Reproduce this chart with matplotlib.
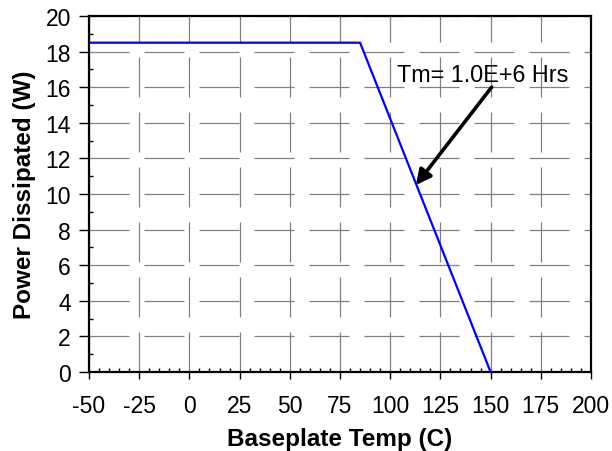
import matplotlib
matplotlib.use("Agg")
import matplotlib.pyplot as plt
from matplotlib.ticker import MultipleLocator

# derating curve
temp_c = [-50, 85, 150]
power_w = [18.5, 18.5, 0]

x_ticks = [-50, -25, 0, 25, 50, 75, 100, 125, 150, 175, 200]
y_ticks = [0, 2, 4, 6, 8, 10, 12, 14, 16, 18, 20]

plt.rcParams["font.family"] = ["Liberation Sans", "DejaVu Sans"]
plt.rcParams["axes.unicode_minus"] = False

fig = plt.figure(figsize=(6.12, 4.52), dpi=100)
ax = fig.add_axes([0.1454, 0.1748, 0.8203, 0.7876])

ax.grid(True, which="major", color="#808080", lw=0.9, ls=(0, (32, 12)))
ax.set_axisbelow(True)
ax.plot(temp_c, power_w, color="#0000ff", lw=1.6, zorder=3)

ax.set_xlim(-50, 200)
ax.set_ylim(0, 20)
ax.set_xticks(x_ticks)
ax.set_yticks(y_ticks)
ax.xaxis.set_minor_locator(MultipleLocator(5))
ax.yaxis.set_minor_locator(MultipleLocator(1))
ax.tick_params(which="major", direction="out", width=1, labelsize=16.5, colors="black")
ax.tick_params(axis="x", which="major", length=5, pad=11)
ax.tick_params(axis="y", which="major", length=7, pad=6)
ax.tick_params(which="minor", direction="in", length=3, width=1)
for sp in ax.spines.values():
    sp.set_linewidth(1.6)

ax.set_xlabel("Baseplate Temp (C)", fontsize=17.5, fontweight="bold", labelpad=7)
ax.set_ylabel("Power Dissipated (W)", fontsize=17.5, fontweight="bold", labelpad=7)

ax.annotate("", xy=(112.8, 10.5), xytext=(150.5, 16.0),
            arrowprops=dict(arrowstyle="-|>,head_length=0.9,head_width=0.45",
                            color="black", lw=2.6, shrinkA=0, shrinkB=0), zorder=4)
ax.text(103.4, 16.35, "Tm= 1.0E+6 Hrs", fontsize=16.8, va="baseline", ha="left", zorder=4)

fig.savefig("out.png", dpi=100, facecolor="white")
